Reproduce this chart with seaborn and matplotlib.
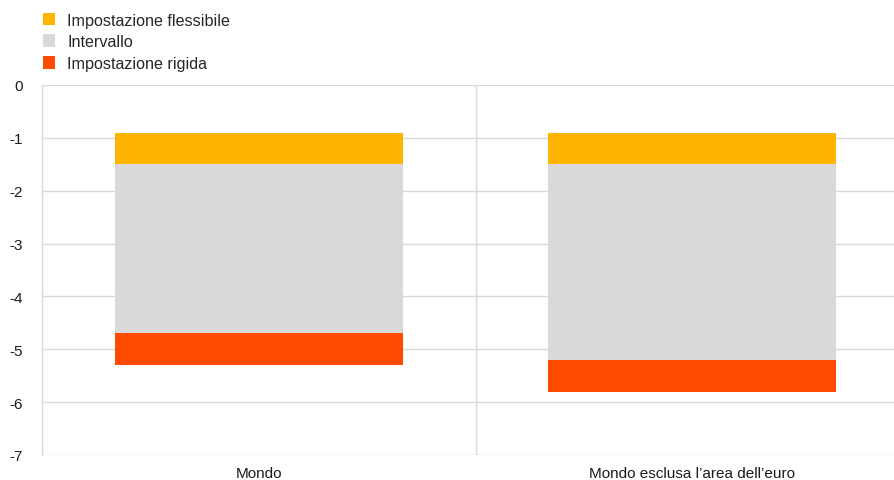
import numpy as np
import pandas as pd
import matplotlib
matplotlib.use("Agg")
import matplotlib.pyplot as plt
from matplotlib.patches import Patch
import seaborn as sns

# data
categories = ["Mondo", "Mondo esclusa l\u2019area dell\u2019euro"]
flex_top = [-0.9, -0.9]
flex_low = [-1.5, -1.5]
rigid_top = [-4.7, -5.2]
rigid_low = [-5.3, -5.8]

series_names = ["Impostazione flessibile", "Intervallo", "Impostazione rigida"]
colors = ["#FFB400", "#D9D9D9", "#FF4B00"]

sns.set_style("white")
plt.rcParams['font.family'] = ['Liberation Sans', 'DejaVu Sans']

fig = plt.figure(figsize=(8.95, 4.81), dpi=100)
# the plot area runs a little past the right edge of the figure
ax = fig.add_axes([42 / 895, 1 - 456 / 481, 867 / 895, (456 - 86) / 481])

tops = [flex_top, flex_low, rigid_top]
lows = [flex_low, rigid_top, rigid_low]
for name, col, top, low in zip(series_names, colors, tops, lows):
    df = pd.DataFrame({"cat": categories,
                       "h": np.array(low) - np.array(top)})
    sns.barplot(data=df, x="cat", y="h", color=col, width=0.665,
                bottom=np.array(top), saturation=1, ax=ax,
                linewidth=0, zorder=3)

ax.set_xlim(-0.5, 1.5)
ax.set_ylim(-7, 0)
ax.set_yticks(range(-7, 1))
ax.set_yticklabels([str(v) for v in range(-7, 1)])
ax.set_xticks([0.5], minor=True)
ax.grid(axis="y", color="#D9D9D9", linewidth=1, zorder=0)
ax.grid(axis="x", which="minor", color="#D9D9D9", linewidth=1, zorder=0)
ax.grid(axis="x", which="major", visible=False)
ax.tick_params(axis="both", which="both", length=0, labelsize=11, colors="#1a1a1a")
ax.tick_params(axis="y", pad=14)
ax.tick_params(axis="x", pad=8)
ax.set_xlabel("")
ax.set_ylabel("")
for s in ["top", "right", "bottom"]:
    ax.spines[s].set_visible(False)
ax.spines["left"].set_color("#D9D9D9")
ax.spines["left"].set_linewidth(1)

handles = [Patch(facecolor=c, edgecolor="none") for c in colors]
fig.legend(handles, series_names, loc="upper left", bbox_to_anchor=(0.034, 0.997),
           frameon=False, fontsize=11.6, handlelength=0.8, handleheight=0.85,
           handletextpad=0.75, labelspacing=0.42, borderaxespad=0.35)

fig.savefig("out.png", dpi=100)
